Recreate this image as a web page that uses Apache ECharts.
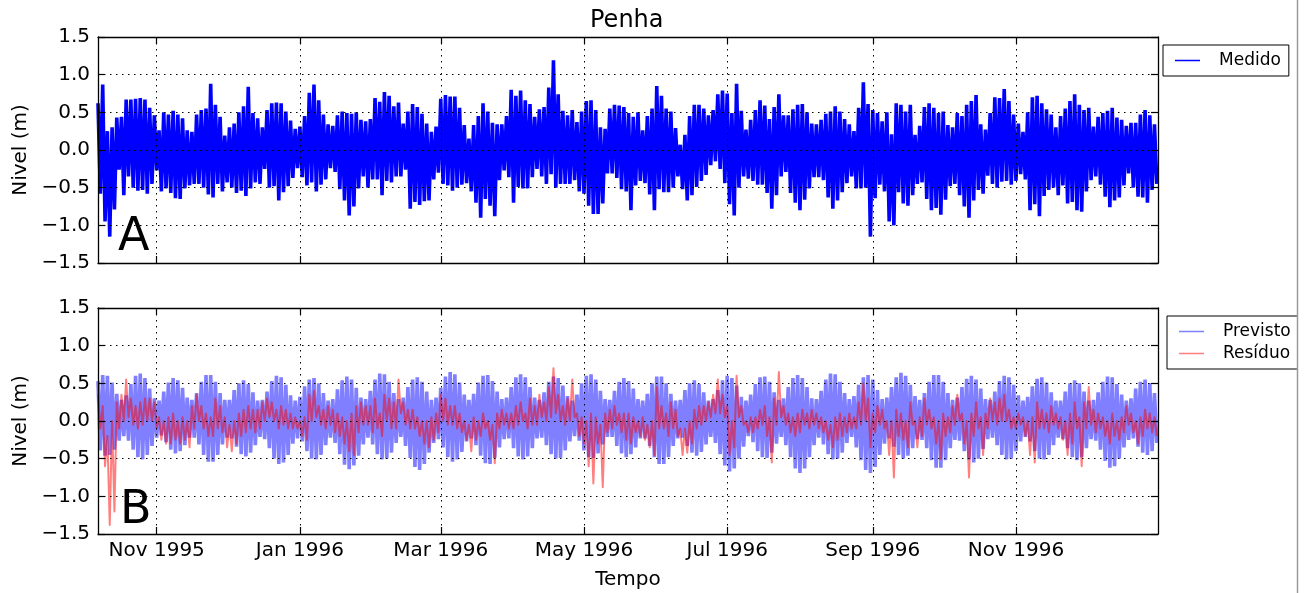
<!DOCTYPE html>
<html><head><meta charset="utf-8">
<script src="https://cdn.jsdelivr.net/npm/echarts@6/dist/echarts.min.js"></script>
<style>html,body{margin:0;padding:0;background:#fff}#c{width:1306px;height:593px}</style>
</head><body><div id="c"></div>
<script>
// ---- data ----
const startDate = '1995-10-07T00:00:00Z';   // first sample
const endDate   = '1996-12-31T12:00:00Z';   // right edge of the axes
const tickMonths = ['1995-11-01','1996-01-01','1996-03-01','1996-05-01','1996-07-01','1996-09-01','1996-11-01'];
const monthNames = ['Jan','Feb','Mar','Apr','May','Jun','Jul','Aug','Sep','Oct','Nov','Dec'];
// one high (day 2k) and one low (day 2k+1) every two days
const medidoHi = [
.62,.87,.25,.3,.43,.44,.67,.67,.68,.69,
.67,.56,.46,.26,.5,.47,.52,.47,.42,.26,
.24,.47,.53,.55,.88,.6,.44,.19,.3,.35,
.5,.58,.84,.49,.42,.3,.53,.62,.63,.62,
.51,.39,.28,.31,.45,.76,.87,.66,.47,.34,
.32,.46,.51,.49,.48,.5,.4,.38,.41,.69,
.64,.77,.72,.58,.63,.35,.51,.61,.57,.48,
.35,.24,.31,.68,.73,.71,.71,.56,.33,.15,
.33,.45,.62,.51,.36,.34,.34,.45,.8,.72,
.79,.66,.61,.44,.54,.57,.83,1.19,.74,.52,
.46,.53,.37,.51,.65,.66,.53,.3,.28,.55,
.6,.59,.57,.49,.44,.5,.26,.45,.55,.85,
.72,.55,.51,.29,.07,.2,.45,.6,.6,.55,
.46,.53,.74,.79,.75,.49,.88,.52,.27,.4,
.53,.66,.59,.41,.57,.74,.46,.46,.54,.6,
.61,.5,.35,.34,.4,.48,.51,.58,.51,.41,
.34,.25,.56,.9,.61,.53,.49,.38,.5,.21,
.62,.6,.51,.6,.2,.32,.57,.62,.56,.49,
.51,.33,.3,.49,.45,.6,.65,.73,.34,.27,
.49,.7,.69,.81,.65,.47,.35,.24,.5,.7,
.72,.62,.54,.47,.3,.45,.55,.65,.74,.6,
.53,.56,.31,.44,.49,.52,.56,.43,.4,.32,
.36,.36,.47,.53,.46,.34];
const medidoLo = [
-.58,-.95,-1.15,-.79,-.26,-.6,-.35,-.5,-.54,-.53,
-.58,-.45,-.27,-.55,-.51,-.57,-.64,-.65,-.51,-.47,
-.45,-.45,-.5,-.59,-.63,-.45,-.55,-.43,-.5,-.57,
-.54,-.61,-.51,-.43,-.45,-.25,-.5,-.48,-.67,-.56,
-.48,-.37,-.24,-.36,-.47,-.43,-.55,-.46,-.39,-.24,
-.29,-.52,-.67,-.87,-.75,-.51,-.35,-.5,-.39,-.39,
-.6,-.41,-.43,-.35,-.35,-.26,-.78,-.69,-.73,-.68,
-.67,-.39,-.3,-.45,-.47,-.54,-.5,-.46,-.44,-.55,
-.7,-.9,-.65,-.74,-.88,-.4,-.27,-.36,-.7,-.49,
-.51,-.51,-.36,-.25,-.35,-.45,-.32,-.5,-.45,-.45,
-.45,-.4,-.55,-.58,-.74,-.85,-.85,-.71,-.31,-.31,
-.37,-.52,-.55,-.8,-.47,-.41,-.44,-.59,-.8,-.52,
-.56,-.56,-.5,-.35,-.52,-.67,-.6,-.49,-.41,-.33,
-.2,-.15,-.25,-.44,-.72,-.87,-.5,-.35,-.38,-.41,
-.46,-.46,-.57,-.78,-.6,-.35,-.29,-.57,-.7,-.8,
-.66,-.51,-.36,-.36,-.4,-.63,-.78,-.67,-.56,-.44,
-.35,-.51,-.51,-.5,-1.15,-.64,-.46,-.55,-.95,-1.0,
-.56,-.71,-.74,-.6,-.45,-.43,-.65,-.8,-.77,-.86,
-.66,-.48,-.45,-.6,-.75,-.9,-.67,-.53,-.58,-.34,
-.45,-.5,-.42,-.41,-.46,-.41,-.32,-.39,-.8,-.72,
-.88,-.61,-.53,-.5,-.6,-.47,-.71,-.69,-.8,-.82,
-.55,-.4,-.35,-.46,-.62,-.76,-.67,-.63,-.47,-.31,
-.5,-.62,-.63,-.7,-.53,-.45];
const previstoHi = [
.53,.61,.60,.51,.36,.28,.34,.49,.60,.63,
.57,.43,.30,.27,.39,.51,.57,.54,.44,.31,
.28,.37,.52,.61,.61,.52,.37,.28,.28,.41,
.50,.54,.49,.38,.27,.28,.39,.53,.60,.58,
.48,.34,.27,.32,.46,.55,.57,.50,.37,.27,
.29,.42,.54,.59,.55,.44,.31,.29,.40,.55,
.63,.62,.52,.37,.29,.31,.45,.55,.58,.52,
.39,.28,.31,.44,.59,.65,.62,.51,.35,.28,
.36,.51,.60,.61,.53,.39,.29,.31,.45,.58,
.62,.58,.45,.31,.28,.38,.52,.59,.57,.47,
.33,.27,.35,.50,.60,.62,.55,.40,.29,.28,
.40,.52,.57,.53,.43,.29,.27,.36,.50,.59,
.59,.50,.36,.27,.28,.41,.50,.54,.49,.38,
.27,.29,.41,.54,.60,.57,.47,.32,.27,.35,
.49,.58,.59,.52,.38,.28,.30,.45,.57,.61,
.57,.45,.30,.29,.40,.55,.63,.62,.52,.37,
.29,.33,.48,.58,.61,.55,.41,.29,.31,.45,
.58,.64,.60,.48,.33,.28,.37,.52,.61,.61,
.52,.37,.28,.31,.45,.56,.60,.55,.43,.29,
.28,.39,.53,.60,.58,.48,.34,.27,.32,.46,
.56,.58,.51,.38,.27,.27,.39,.50,.54,.50,
.39,.27,.28,.38,.52,.59,.58,.49,.35,.27,
.30,.43,.52,.55,.50,.37];
const previstoLo = [
-.39,-.46,-.45,-.38,-.26,-.20,-.26,-.38,-.48,-.51,
-.45,-.33,-.22,-.19,-.28,-.38,-.43,-.40,-.32,-.22,
-.22,-.31,-.45,-.54,-.54,-.45,-.31,-.22,-.23,-.34,
-.44,-.47,-.42,-.32,-.21,-.24,-.36,-.50,-.57,-.55,
-.45,-.30,-.23,-.27,-.40,-.50,-.51,-.45,-.32,-.22,
-.29,-.44,-.58,-.64,-.59,-.46,-.31,-.22,-.31,-.44,
-.51,-.50,-.42,-.29,-.21,-.33,-.49,-.61,-.65,-.57,
-.42,-.29,-.24,-.35,-.48,-.54,-.51,-.41,-.27,-.23,
-.32,-.46,-.56,-.57,-.49,-.35,-.24,-.23,-.36,-.47,
-.51,-.47,-.36,-.23,-.22,-.32,-.44,-.50,-.49,-.39,
-.27,-.20,-.26,-.39,-.48,-.49,-.43,-.31,-.21,-.21,
-.33,-.43,-.48,-.44,-.35,-.23,-.23,-.33,-.48,-.57,
-.57,-.48,-.33,-.23,-.22,-.33,-.42,-.46,-.41,-.31,
-.21,-.29,-.44,-.59,-.67,-.63,-.50,-.34,-.20,-.28,
-.40,-.48,-.49,-.42,-.30,-.21,-.32,-.48,-.63,-.69,
-.63,-.48,-.32,-.22,-.31,-.44,-.51,-.50,-.42,-.29,
-.21,-.35,-.52,-.65,-.69,-.61,-.45,-.30,-.23,-.34,
-.45,-.50,-.46,-.36,-.24,-.25,-.36,-.52,-.62,-.62,
-.52,-.36,-.25,-.26,-.40,-.51,-.55,-.50,-.37,-.24,
-.22,-.32,-.45,-.51,-.50,-.40,-.27,-.21,-.27,-.40,
-.50,-.51,-.45,-.32,-.22,-.24,-.36,-.48,-.52,-.48,
-.36,-.24,-.26,-.38,-.53,-.62,-.60,-.50,-.35,-.25,
-.23,-.34,-.42,-.45,-.40,-.29];
const residuoHi = [
0.35,0.2,-0.2,0.0,0.25,0.35,0.55,0.3,0.2,0.25,
0.3,0.3,0.25,0.05,0.0,0.05,0.1,0.0,0.05,0.0,
0.2,0.35,0.2,0.1,0.05,0.3,0.2,0.05,-0.05,0.0,
0.1,0.15,0.2,0.15,0.15,0.25,0.3,0.25,0.15,0.2,
0.15,0.1,0.05,0.0,0.05,0.35,0.4,0.2,0.15,0.2,
0.15,0.1,0.05,0.0,0.1,0.2,0.25,0.2,0.2,0.3,
0.1,0.35,0.3,0.25,0.55,0.25,0.15,0.15,0.05,0.0,
0.0,0.05,0.1,0.35,0.3,0.2,0.2,0.1,0.0,-0.05,
0.05,0.0,0.1,0.0,-0.05,0.1,0.15,0.1,0.1,0.2,
0.25,0.1,0.3,0.2,0.35,0.25,0.45,0.7,0.35,0.2,
0.3,0.55,0.1,0.05,0.0,0.1,0.05,-0.05,0.1,0.15,
0.2,0.1,0.1,0.1,0.05,0.0,0.05,-0.05,0.0,0.45,
0.2,0.1,0.25,0.15,-0.1,-0.1,0.0,0.15,0.2,0.2,
0.25,0.35,0.55,0.35,0.2,0.0,0.6,0.2,0.0,0.05,
0.05,0.15,0.2,0.05,0.3,0.65,0.2,0.1,0.05,0.1,
0.15,0.1,0.15,0.1,0.05,0.0,-0.05,0.05,0.1,0.05,
0.1,0.05,0.25,0.5,0.3,0.1,0.2,0.15,0.0,0.0,
0.15,0.1,0.0,0.25,0.0,0.05,0.3,0.15,0.05,0.0,
0.1,0.05,0.2,0.35,0.1,0.0,0.1,0.25,0.05,0.1,
0.3,0.25,0.3,0.35,0.15,0.05,0.1,0.05,0.0,0.05,
0.25,0.15,0.1,0.2,0.1,0.05,0.0,0.1,0.25,0.05,
0.25,0.45,0.15,0.1,0.05,0.0,0.1,0.0,0.05,0.2,
0.1,0.0,0.05,0.15,0.1,0.05];
const residuoLo = [
-0.1,-0.6,-1.38,-1.2,-0.1,0.0,0.05,-0.05,-0.1,-0.05,
0.0,0.0,-0.1,-0.25,-0.3,-0.3,-0.25,-0.3,-0.25,-0.35,
-0.1,0.0,-0.1,-0.2,-0.2,-0.1,-0.15,-0.35,-0.4,-0.3,
-0.2,-0.15,-0.1,-0.15,-0.1,0.0,0.05,0.0,-0.1,-0.05,
-0.1,-0.1,-0.1,-0.2,-0.25,0.0,0.05,-0.05,-0.1,-0.05,
-0.15,-0.2,-0.3,-0.4,-0.45,-0.15,-0.05,-0.05,-0.15,-0.1,
-0.2,0.0,-0.1,-0.1,0.1,-0.05,-0.1,-0.1,-0.2,-0.3,
-0.35,-0.25,-0.15,0.0,-0.05,-0.05,-0.1,-0.15,-0.25,-0.4,
-0.25,-0.2,-0.1,-0.25,-0.56,-0.1,-0.05,-0.1,-0.1,-0.05,
0.0,-0.1,-0.05,-0.05,0.05,0.0,0.05,0.1,0.0,-0.05,
0.0,0.05,-0.2,-0.3,-0.6,-0.83,-0.3,-0.88,-0.15,-0.1,
-0.05,-0.15,-0.25,-0.3,-0.15,-0.2,-0.25,-0.35,-0.45,-0.1,
-0.1,-0.2,-0.1,-0.2,-0.45,-0.42,-0.3,-0.1,-0.05,0.0,
0.05,0.1,0.1,0.05,-0.45,-0.35,0.05,-0.05,-0.15,-0.15,
-0.1,-0.05,-0.2,-0.55,-0.05,0.05,-0.05,-0.15,-0.2,-0.15,
-0.05,-0.1,-0.05,-0.1,-0.15,-0.25,-0.35,-0.25,-0.2,-0.15,
-0.1,-0.1,-0.05,0.0,-0.35,-0.15,-0.05,-0.1,-0.45,-0.75,
-0.2,-0.25,-0.35,-0.05,-0.35,-0.2,-0.05,-0.1,-0.3,-0.5,
-0.2,-0.15,-0.05,0.0,-0.3,-0.75,-0.2,-0.1,-0.45,-0.1,
0.0,-0.05,0.0,0.0,-0.1,-0.1,-0.05,-0.2,-0.45,-0.55,
-0.1,-0.1,-0.15,-0.05,-0.1,-0.25,-0.45,-0.3,-0.1,-0.6,
-0.1,-0.05,-0.15,-0.1,-0.2,-0.3,-0.2,-0.25,-0.15,-0.05,
-0.15,-0.3,-0.2,-0.1,-0.15,-0.2];

// ---- build ----
const DAY = 86400000;
const t0 = Date.parse(startDate);
const xMax = Date.parse(endDate);
const tickVals = tickMonths.map(s => Date.parse(s + 'T00:00:00Z'));
function zig(hi, lo) {
  const out = [];
  for (let k = 0; k < hi.length; k++) {
    out.push([t0 + 2 * k * DAY, hi[k]]);
    if (k < lo.length) out.push([t0 + (2 * k + 1) * DAY, lo[k]]);
  }
  return out;
}
const FONT = 'DejaVu Sans';
const fmtX = v => { const d = new Date(v); return monthNames[d.getUTCMonth()] + ' ' + d.getUTCFullYear(); };
const fmtY = v => (v < 0 ? '\u2212' : '') + Math.abs(v).toFixed(1);
const gridLine = { show: true, lineStyle: { color: '#000', type: [1.5, 4.5], width: 1 } };

function xAx(grid, pos, labels, name) {
  return {
    type: 'value', gridIndex: grid, position: pos, min: t0, max: xMax, z: 5,
    axisLine: { show: true, onZero: false, lineStyle: { color: '#000', width: 1.3 } },
    axisTick: { show: true, inside: true, length: 7, customValues: tickVals, lineStyle: { color: '#000', width: 1.2 } },
    axisLabel: { show: labels, customValues: tickVals, formatter: fmtX, color: '#000', fontFamily: FONT, fontSize: 20, margin: 7 },
    splitLine: pos === 'bottom' ? gridLine : { show: false },
    name: name || '', nameLocation: 'middle', nameGap: 36,
    nameTextStyle: { color: '#000', fontFamily: FONT, fontSize: 20 }
  };
}
function yAx(grid, pos, labels) {
  return {
    type: 'value', gridIndex: grid, position: pos, min: -1.5, max: 1.5, interval: 0.5, z: 5,
    axisLine: { show: true, onZero: false, lineStyle: { color: '#000', width: 1.3 } },
    axisTick: { show: true, inside: true, length: 7, lineStyle: { color: '#000', width: 1.2 } },
    axisLabel: { show: labels, formatter: fmtY, color: '#000', fontFamily: FONT, fontSize: 20, margin: 8 },
    splitLine: pos === 'left' ? gridLine : { show: false },
    name: labels ? 'Nivel (m)' : '', nameLocation: 'middle', nameGap: 62, nameRotate: 90,
    nameTextStyle: { color: '#000', fontFamily: FONT, fontSize: 20 }
  };
}

const chart = echarts.init(document.getElementById('c'), null, { renderer: 'canvas' });
chart.setOption({
  animation: false,
  backgroundColor: '#fff',
  textStyle: { fontFamily: FONT },
  title: { text: 'Penha', left: 590, top: 9, padding: 0,
    textStyle: { fontFamily: FONT, fontSize: 24, fontWeight: 'normal', color: '#000' } },
  grid: [
    { left: 98, top: 37, width: 1060, height: 226 },
    { left: 98, top: 308, width: 1060, height: 226 }
  ],
  xAxis: [xAx(0, 'bottom', false), xAx(0, 'top', false), xAx(1, 'bottom', true, 'Tempo'), xAx(1, 'top', false)],
  yAxis: [yAx(0, 'left', true), yAx(0, 'right', false), yAx(1, 'left', true), yAx(1, 'right', false)],
  legend: [
    { data: ['Medido'], left: 1163, top: 45, orient: 'vertical', selectedMode: false,
      borderColor: '#000', borderWidth: 1, borderRadius: 0, padding: [7, 8, 7, 12],
      icon: 'rect', itemWidth: 25, itemHeight: 1.5, itemGap: 5,
      textStyle: { fontFamily: FONT, fontSize: 17, color: '#000', padding: [0, 0, 0, 14] } },
    { data: ['Previsto', 'Resíduo'], left: 1167, top: 316, orient: 'vertical', selectedMode: false,
      borderColor: '#000', borderWidth: 1, borderRadius: 0, padding: [7, 12, 7, 12],
      icon: 'rect', itemWidth: 25, itemHeight: 1.5, itemGap: 5,
      textStyle: { fontFamily: FONT, fontSize: 17, color: '#000', padding: [0, 0, 0, 14] } }
  ],
  series: [
    { name: 'Medido', type: 'line', xAxisIndex: 0, yAxisIndex: 0, data: zig(medidoHi, medidoLo),
      showSymbol: false, symbol: 'none', color: '#0000ff', z: 2,
      lineStyle: { color: '#0000ff', width: 3.6, join: 'miter', miterLimit: 1 } },
    { name: 'Previsto', type: 'line', xAxisIndex: 2, yAxisIndex: 2, data: zig(previstoHi, previstoLo),
      showSymbol: false, symbol: 'none', color: 'rgba(0,0,255,0.5)', z: 2,
      lineStyle: { color: 'rgba(0,0,255,0.5)', width: 3.6, join: 'miter', miterLimit: 1 } },
    { name: 'Resíduo', type: 'line', xAxisIndex: 2, yAxisIndex: 2, data: zig(residuoHi, residuoLo),
      showSymbol: false, symbol: 'none', color: 'rgba(255,0,0,0.5)', z: 3,
      lineStyle: { color: 'rgba(255,0,0,0.5)', width: 2, join: 'round' } }
  ],
  graphic: [
    { type: 'text', left: 118, top: 215, z: 10, style: { text: 'A', fontFamily: FONT, fontSize: 46, fill: '#000' } },
    { type: 'text', left: 120, top: 488, z: 10, style: { text: 'B', fontFamily: FONT, fontSize: 46, fill: '#000' } },
    { type: 'rect', left: 1298, top: 0, z: 100, shape: { width: 10, height: 593 }, style: { fill: '#fff' } },
    { type: 'line', z: 101, shape: { x1: 1297.5, y1: 0, x2: 1297.5, y2: 593 }, style: { stroke: '#9a9a9a', lineWidth: 1.5 } }
  ]
});
</script>
</body></html>
